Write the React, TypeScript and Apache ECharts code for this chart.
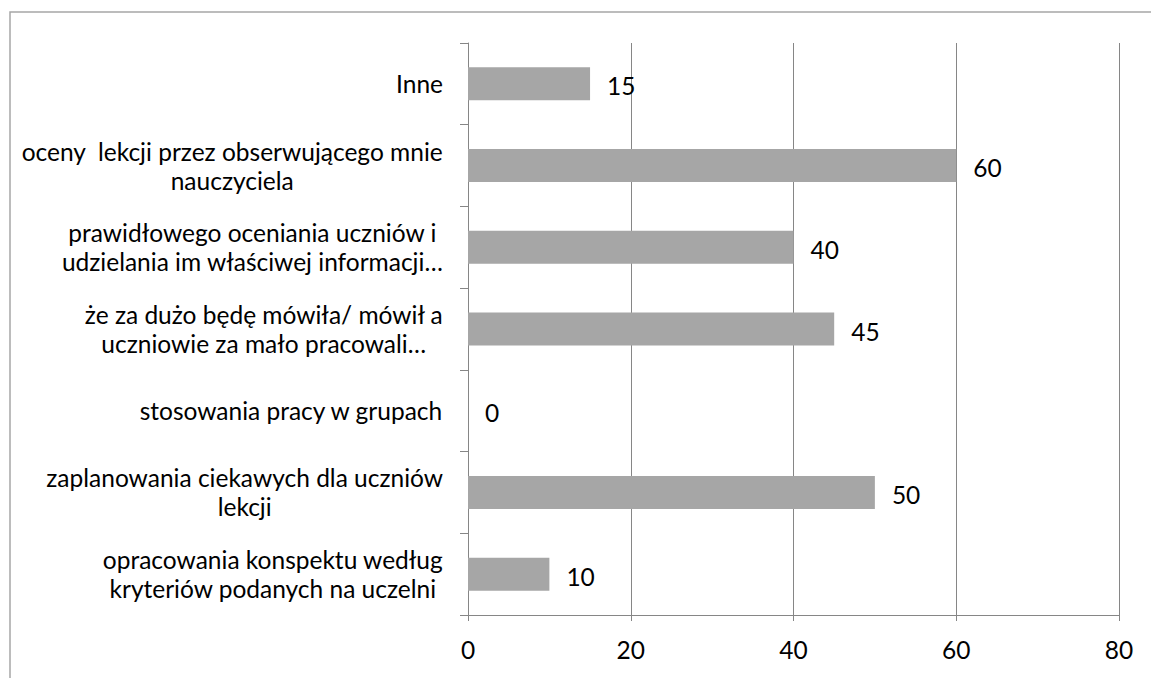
import React, { useEffect, useRef } from "react";
import * as echarts from "echarts";

const categories = [
  "opracowania konspektu według\nkryteriów podanych na uczelni",
  "zaplanowania ciekawych dla uczniów\nlekcji",
  "stosowania pracy w grupach",
  "że za dużo będę mówiła/ mówił a\nuczniowie za mało pracowali…",
  "prawidłowego oceniania uczniów i\nudzielania im właściwej informacji…",
  "oceny  lekcji przez obserwującego mnie\nnauczyciela",
  "Inne",
];
const values = [10, 50, 0, 45, 40, 60, 15];
const xTicks = { min: 0, max: 80, interval: 20 };

const FONT = "Lato";
const FS = 24.5;

export default function App() {
  const ref = useRef<HTMLDivElement>(null);
  useEffect(() => {
    document.body.style.margin = "0";
    const chart = echarts.init(ref.current!, null, { renderer: "svg" });
    chart.setOption({
      animation: false,
      textStyle: { fontFamily: FONT },
      graphic: [
        {
          type: "rect",
          shape: { x: 10, y: 12, width: 1300, height: 800 },
          style: { fill: "none", stroke: "#a6a6a6", lineWidth: 1.5 },
          silent: true,
        },
      ],
      grid: { left: 468, right: 32, top: 43, bottom: 63, containLabel: false },
      xAxis: {
        type: "value",
        min: xTicks.min,
        max: xTicks.max,
        interval: xTicks.interval,
        axisLine: { show: true, lineStyle: { color: "#868686", width: 1 } },
        axisTick: { show: true, length: 6, lineStyle: { color: "#868686" } },
        splitLine: { show: true, lineStyle: { color: "#868686", width: 1 } },
        axisLabel: { color: "#000", fontSize: FS, fontFamily: FONT, margin: 22 },
      },
      yAxis: {
        type: "category",
        data: categories,
        axisLine: { show: true, lineStyle: { color: "#868686", width: 1 } },
        axisTick: { show: true, length: 8, lineStyle: { color: "#868686" } },
        splitLine: { show: false },
        axisLabel: {
          color: "#000",
          fontSize: FS,
          fontFamily: FONT,
          margin: 25,
          align: "right",
          lineHeight: 29,
          formatter: (v: string) =>
            v
              .split("\n")
              .map((l) => `{c|${l}}`)
              .join("\n"),
          rich: {
            c: { align: "center", fontSize: FS, fontFamily: FONT, color: "#000", lineHeight: 29 },
          },
        },
      },
      series: [
        {
          type: "bar",
          data: values,
          barWidth: 33,
          itemStyle: { color: "#a6a6a6" },
          label: {
            show: true,
            position: "right",
            distance: 17,
            offset: [0, 2],
            color: "#000",
            fontSize: FS,
            fontFamily: FONT,
          },
        },
      ],
    });
    return () => chart.dispose();
  }, []);
  return <div ref={ref} style={{ width: 1151, height: 678 }} />;
}
